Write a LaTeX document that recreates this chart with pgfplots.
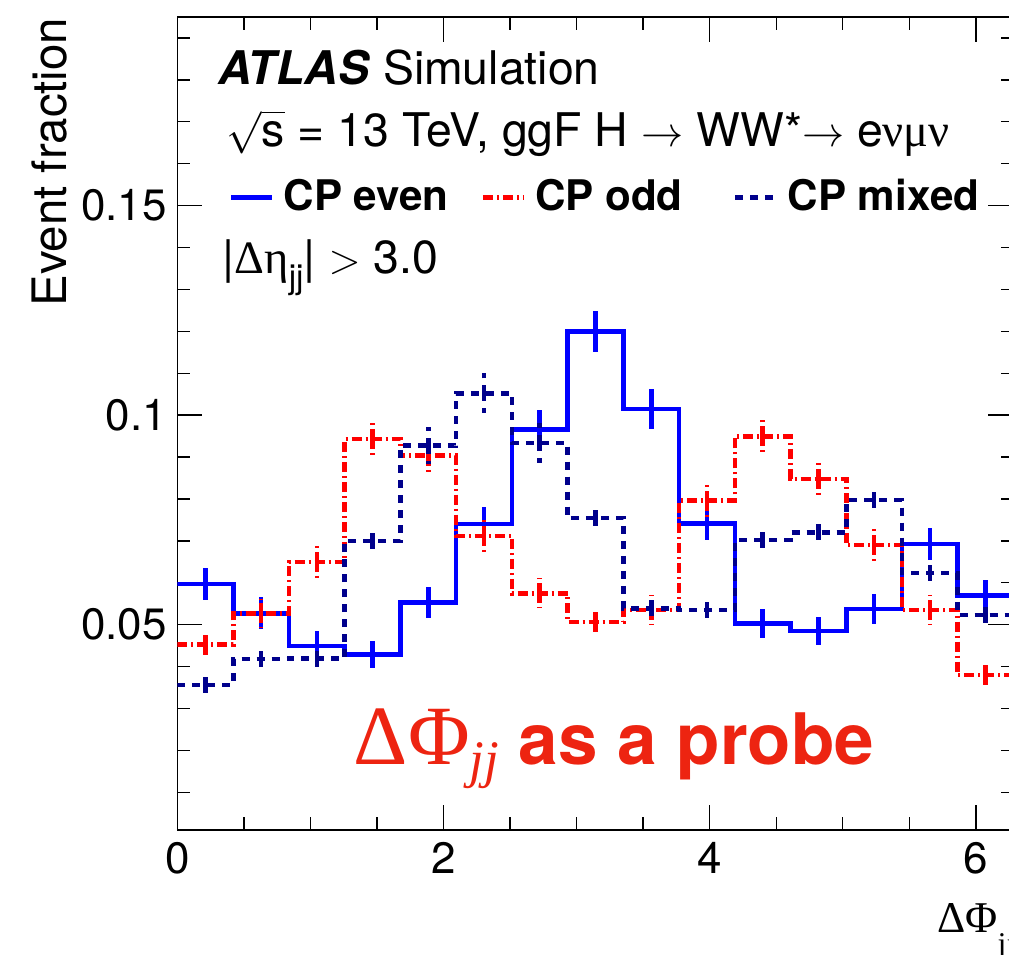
\documentclass[border=0pt]{standalone}
\usepackage{fontspec}
\setmainfont{TeX Gyre Heros}
\newfontfamily\sym{Liberation Serif}
\usepackage{pgfplots}
\pgfplotsset{compat=1.18}
\usepackage{pgfplotstable}

\definecolor{cpeven}{RGB}{0,0,255}
\definecolor{cpodd}{RGB}{255,0,0}
\definecolor{cpmixed}{RGB}{0,0,140}
\definecolor{probe}{RGB}{237,36,17}

% bin left edges (last row = right edge, repeats last value)
\pgfplotstableread{
l        b      r      n
0.000000 0.0597 0.0452 0.0356
0.418879 0.0527 0.0527 0.0418
0.837758 0.0449 0.0650 0.0419
1.256637 0.0429 0.0943 0.0700
1.675516 0.0553 0.0903 0.0927
2.094395 0.0740 0.0712 0.1052
2.513274 0.0966 0.0575 0.0933
2.932153 0.1199 0.0506 0.0754
3.351032 0.1015 0.0535 0.0539
3.769911 0.0742 0.0796 0.0535
4.188790 0.0503 0.0949 0.0702
4.607669 0.0485 0.0848 0.0720
5.026548 0.0537 0.0690 0.0797
5.445427 0.0692 0.0535 0.0623
5.864306 0.0569 0.0380 0.0523
6.283185 0.0569 0.0380 0.0523
}\edges

% bin centres with statistical uncertainties
\pgfplotstableread{
c        b      be     r      re     n      ne
0.209440 0.0597 0.0039 0.0452 0.0027 0.0356 0.0026
0.628319 0.0527 0.0038 0.0527 0.0035 0.0418 0.0026
1.047198 0.0449 0.0035 0.0650 0.0040 0.0419 0.0027
1.466077 0.0429 0.0032 0.0943 0.0042 0.0700 0.0031
1.884956 0.0553 0.0036 0.0903 0.0044 0.0927 0.0044
2.303835 0.0740 0.0041 0.0712 0.0040 0.1052 0.0048
2.722714 0.0966 0.0046 0.0575 0.0036 0.0933 0.0047
3.141593 0.1199 0.0049 0.0506 0.0026 0.0754 0.0031
3.560472 0.1015 0.0047 0.0535 0.0036 0.0539 0.0034
3.979351 0.0742 0.0041 0.0796 0.0041 0.0535 0.0027
4.398230 0.0503 0.0034 0.0949 0.0042 0.0702 0.0030
4.817109 0.0485 0.0033 0.0848 0.0042 0.0720 0.0031
5.235988 0.0537 0.0035 0.0690 0.0041 0.0797 0.0032
5.654867 0.0692 0.0038 0.0535 0.0036 0.0623 0.0032
6.073746 0.0569 0.0038 0.0380 0.0026 0.0523 0.0031
}\centers

\tikzset{
  evenstyle/.style={cpeven, line width=1.3pt, solid},
  oddstyle/.style={cpodd, line width=1.3pt, dash pattern=on 1mm off 0.4mm on 0.2mm off 0.4mm},
  mixedstyle/.style={cpmixed, line width=1.3pt, dash pattern=on 0.8mm off 0.7mm},
}
\pgfplotsset{
  errbars/.style={forget plot, only marks, mark=*, mark size=0pt,
    mark options={draw=none, fill=none},
    error bars/.cd, y dir=both, y explicit, error mark=none,
    error bar style={#1}},
}

\begin{document}
\begin{tikzpicture}
\begin{axis}[
  name=ax,
  scale only axis,
  width=83.6mm, height=81.3mm,
  xmin=0, xmax=6.283185, ymin=0.001, ymax=0.195,
  axis line style={line width=0.5pt},
  tick style={line width=0.4pt, black},
  tick align=inside,
  xtick pos=both, ytick pos=both,
  xticklabel pos=lower, yticklabel pos=left,
  major tick length=2.5mm, minor tick length=1.25mm,
  xtick={0,2,4,6}, xticklabels={0,2,4,6},
  minor xtick={0.5,1,1.5,2.5,3,3.5,4.5,5,5.5},
  ytick={0.05,0.1,0.15}, yticklabels={0.05,0.1,0.15},
  minor ytick={0.01,0.02,0.03,0.04,0.06,0.07,0.08,0.09,0.11,0.12,0.13,0.14,0.16,0.17,0.18,0.19},
  /pgf/number format/assume math mode=true,
  tick label style={font=\fontsize{12.5}{15}\selectfont},
  xticklabel style={inner sep=0pt, anchor=north, yshift=-1.15mm},
  yticklabel style={inner sep=0pt, anchor=east, xshift=-1.0mm},
  ylabel={Event fraction},
  every axis y label/.style={at={(rel axis cs:-0.1327,1)}, rotate=90, anchor=base east, inner sep=0pt, font=\fontsize{13.5}{16}\selectfont},
  xlabel={{\sym ΔΦ}\raisebox{-2.2mm}{\sym\fontsize{9}{10}\selectfont jj}},
  every axis x label/.style={at={(rel axis cs:0.9081,-0.1267)}, anchor=base west, inner sep=0pt, font=\fontsize{12.5}{15}\selectfont},
  legend image code/.code={\draw[#1] (0mm,0mm) -- (4.1mm,0mm);},
  legend style={draw=none, fill=none, at={(rel axis cs:0.0616,0.7777)}, anchor=west,
    inner sep=0pt, outer sep=0pt, font=\bfseries\fontsize{12}{14}\selectfont,
    nodes={inner sep=0pt},
    /tikz/every odd column/.append style={column sep=0.9mm},
    /tikz/every even column/.append style={column sep=0mm}},
  legend columns=3,
]
% histograms
\addplot[evenstyle, const plot mark left, line join=miter, forget plot] table[x=l, y=b] {\edges};
\addplot[errbars={evenstyle}] table[x=c, y=b, y error=be] {\centers};
\addplot[oddstyle, const plot mark left, line join=miter, forget plot] table[x=l, y=r] {\edges};
\addplot[errbars={oddstyle}] table[x=c, y=r, y error=re] {\centers};
\addplot[mixedstyle, const plot mark left, line join=miter, forget plot] table[x=l, y=n] {\edges};
\addplot[errbars={mixedstyle}] table[x=c, y=n, y error=ne] {\centers};

\addlegendimage{evenstyle}
\addlegendentry{\makebox[19.7mm][l]{CP even}}
\addlegendimage{oddstyle}
\addlegendentry{\makebox[19.8mm][l]{CP odd}}
\addlegendimage{mixedstyle}
\addlegendentry{CP mixed}

\node[anchor=base west, inner sep=0pt, font=\fontsize{13.2}{16}\selectfont] at (rel axis cs:0.0484,0.9164)
  {{\bfseries\itshape ATLAS}\hspace{1.4mm}Simulation};
\node[anchor=base west, inner sep=0pt, font=\fontsize{13.2}{16}\selectfont] at (rel axis cs:0.0580,0.8405)
  {$\sqrt{\mbox{s}}$ = 13 TeV, ggF H $\rightarrow$ WW*$\rightarrow$ e{\sym νμν}};
\node[anchor=base west, inner sep=0pt, font=\fontsize{13.2}{16}\selectfont] at (rel axis cs:0.0532,0.6851)
  {|{\sym Δη}\raisebox{-1.5mm}{\fontsize{9.5}{10}\selectfont jj}| $>$ 3.0};
\node[anchor=base west, inner sep=0pt, text=probe] at (rel axis cs:0.2100,0.0800)
  {{\sym\fontsize{24}{28}\selectfont ΔΦ}\raisebox{-1.3mm}{\sym\itshape\fontsize{15}{18}\selectfont jj}\hspace{2mm}{\bfseries\fontsize{20.2}{24}\selectfont as a probe}};
\end{axis}
\pgfresetboundingbox
\path[use as bounding box] ([shift={(-17.75mm,-12.5mm)}]ax.south west) rectangle ([shift={(83.15mm,83.0mm)}]ax.south west);
\end{tikzpicture}
\end{document}
